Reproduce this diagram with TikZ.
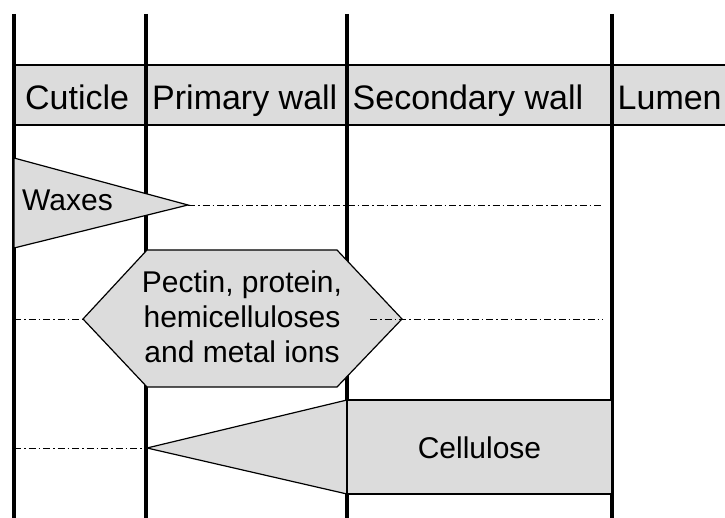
\documentclass[tikz,border=0pt]{standalone}
\usepackage{fontspec}
\setmainfont{Liberation Sans}
\definecolor{layerfill}{HTML}{DCDCDC}
\usetikzlibrary{calc}

\begin{document}
\begin{tikzpicture}[x=1pt, y=-1pt,
  wall/.style={line width=3.3pt},
  layer/.style={fill=layerfill, draw=black, line width=1.2pt, line join=miter},
  trace/.style={line width=0.9pt, dash pattern=on 7pt off 3pt on 1.5pt off 3pt},
  head/.style={font=\fontsize{34}{38}\selectfont, anchor=base west, inner sep=0pt},
  label/.style={font=\fontsize{30}{35}\selectfont, inner sep=0pt}]
  \useasboundingbox (0,0) rectangle (725,518);
  % header band
  \fill[layerfill] (14,65) rectangle (725,125);
  \draw[line width=1.2pt] (14,65) -- (725,65) (14,125) -- (725,125);
  % walls
  \foreach \x in {14,146,347,612}
    \draw[wall] (\x,14) -- (\x,518);
  \node[head] (cuticle) at (25,110) {Cuticle};
  \node[head] (primary) at (152,110) {Primary wall};
  \node[head] (secondary) at (352.5,110) {Secondary wall};
  \node[head] (lumen) at (617.5,110) {Lumen};

  % waxes
  \coordinate (waxtip) at (188,205);
  \coordinate (waxend) at (603,205);
  \draw[layer] (14,158) -- (waxtip) -- (14,248) -- cycle;
  \draw[trace] (waxtip) -- (waxend);
  \node[label, anchor=base west] (waxes) at (22,211) {Waxes};

  % pectin etc.
  \coordinate (hexl) at (83,319);
  \coordinate (hexr) at (402,319);
  \coordinate (hexin) at (370,319);
  \coordinate (pectinstart) at (14,319);
  \coordinate (pectinend) at (603,319);
  \draw[layer] (hexl) -- (147,250) -- (337,250) -- (hexr) -- (337,387) -- (147,387) -- cycle;
  \draw[trace] (pectinstart) -- (hexl);
  \draw[trace] (hexin) -- (pectinend);
  \node[label, align=center] (pectin) at (242,317) {Pectin, protein,\\hemicelluloses\\and metal ions};

  % cellulose
  \coordinate (celltip) at (147,448);
  \coordinate (cellstart) at (14,448);
  \draw[layer] (celltip) -- (347,400) -- (347,494) -- cycle;
  \draw[layer] (347,400) rectangle (612,494);
  \draw[trace] (cellstart) -- (celltip);
  \node[label] (cellulose) at (479.5,448) {Cellulose};
\end{tikzpicture}
\end{document}
